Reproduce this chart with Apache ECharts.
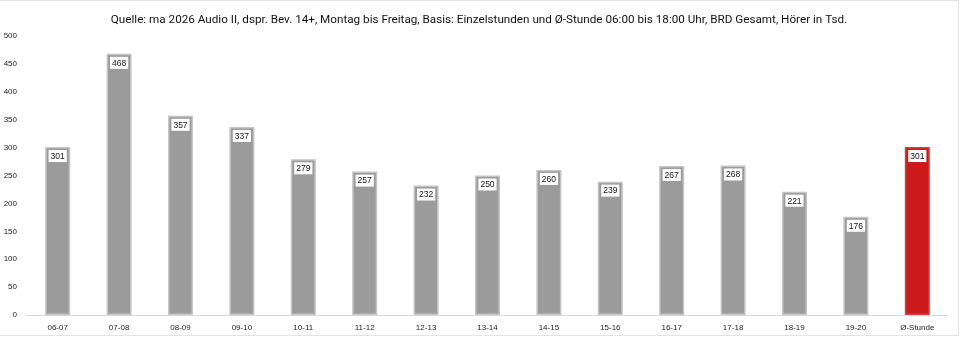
<!DOCTYPE html>
<html>
<head>
<meta charset="utf-8">
<script src="https://cdn.jsdelivr.net/npm/echarts@6/dist/echarts.min.js"></script>
<style>
  html, body { margin: 0; padding: 0; background: #fff; }
  #chart { width: 958px; height: 334px; border: 1px solid #e3e3e3; border-left: none; }
</style>
</head>
<body>
<div id="chart"></div>
<script>
var categories = ['06-07', '07-08', '08-09', '09-10', '10-11', '11-12', '12-13', '13-14', '14-15', '15-16', '16-17', '17-18', '18-19', '19-20', 'Ø-Stunde']
var listeners = [301, 468, 357, 337, 279, 257, 232, 250, 260, 239, 267, 268, 221, 176, 301]
var yTicks = [0, 50, 100, 150, 200, 250, 300, 350, 400, 450, 500]

var chart = echarts.init(document.getElementById('chart'))

// letzter Balken (Durchschnitt) in Rot
var barData = listeners.map(function (v, i) {
  if (i === listeners.length - 1) {
    return { value: v, itemStyle: { color: '#cc1a1a', borderColor: '#e23b3b' } }
  }
  return v
})

chart.setOption({
  animation: false,
  title: {
    text: 'Quelle: ma 2026 Audio II, dspr. Bev. 14+, Montag bis Freitag, Basis: Einzelstunden und Ø-Stunde 06:00 bis 18:00 Uhr, BRD Gesamt, Hörer in Tsd.',
    left: 'center',
    top: 8,
    textStyle: { fontFamily: 'Roboto', fontSize: 11.7, fontWeight: 'normal', color: '#111' }
  },
  grid: { left: 27, right: 10, top: 35, bottom: 20 },
  xAxis: {
    type: 'category',
    data: categories,
    axisLine: { lineStyle: { color: '#d9d9d9' } },
    axisTick: { show: false },
    axisLabel: { fontFamily: 'Liberation Sans', fontSize: 8, color: '#222', margin: 9 }
  },
  yAxis: {
    type: 'value',
    min: yTicks[0],
    max: yTicks[yTicks.length - 1],
    interval: 50,
    splitLine: { show: false },
    axisLine: { show: false },
    axisTick: { show: false },
    axisLabel: { fontFamily: 'Liberation Sans', fontSize: 8, color: '#222', margin: 10 }
  },
  series: [{
    type: 'bar',
    data: barData,
    barWidth: 25,
    itemStyle: { color: '#9b9b9b', borderColor: '#c4c4c4', borderWidth: 1.5 },
    label: {
      show: true,
      position: 'insideTop',
      distance: 3,
      fontFamily: 'Liberation Sans',
      fontSize: 8.5,
      color: '#111',
      backgroundColor: '#fff',
      padding: [2, 2, 1, 2]
    }
  }]
})
</script>
</body>
</html>
